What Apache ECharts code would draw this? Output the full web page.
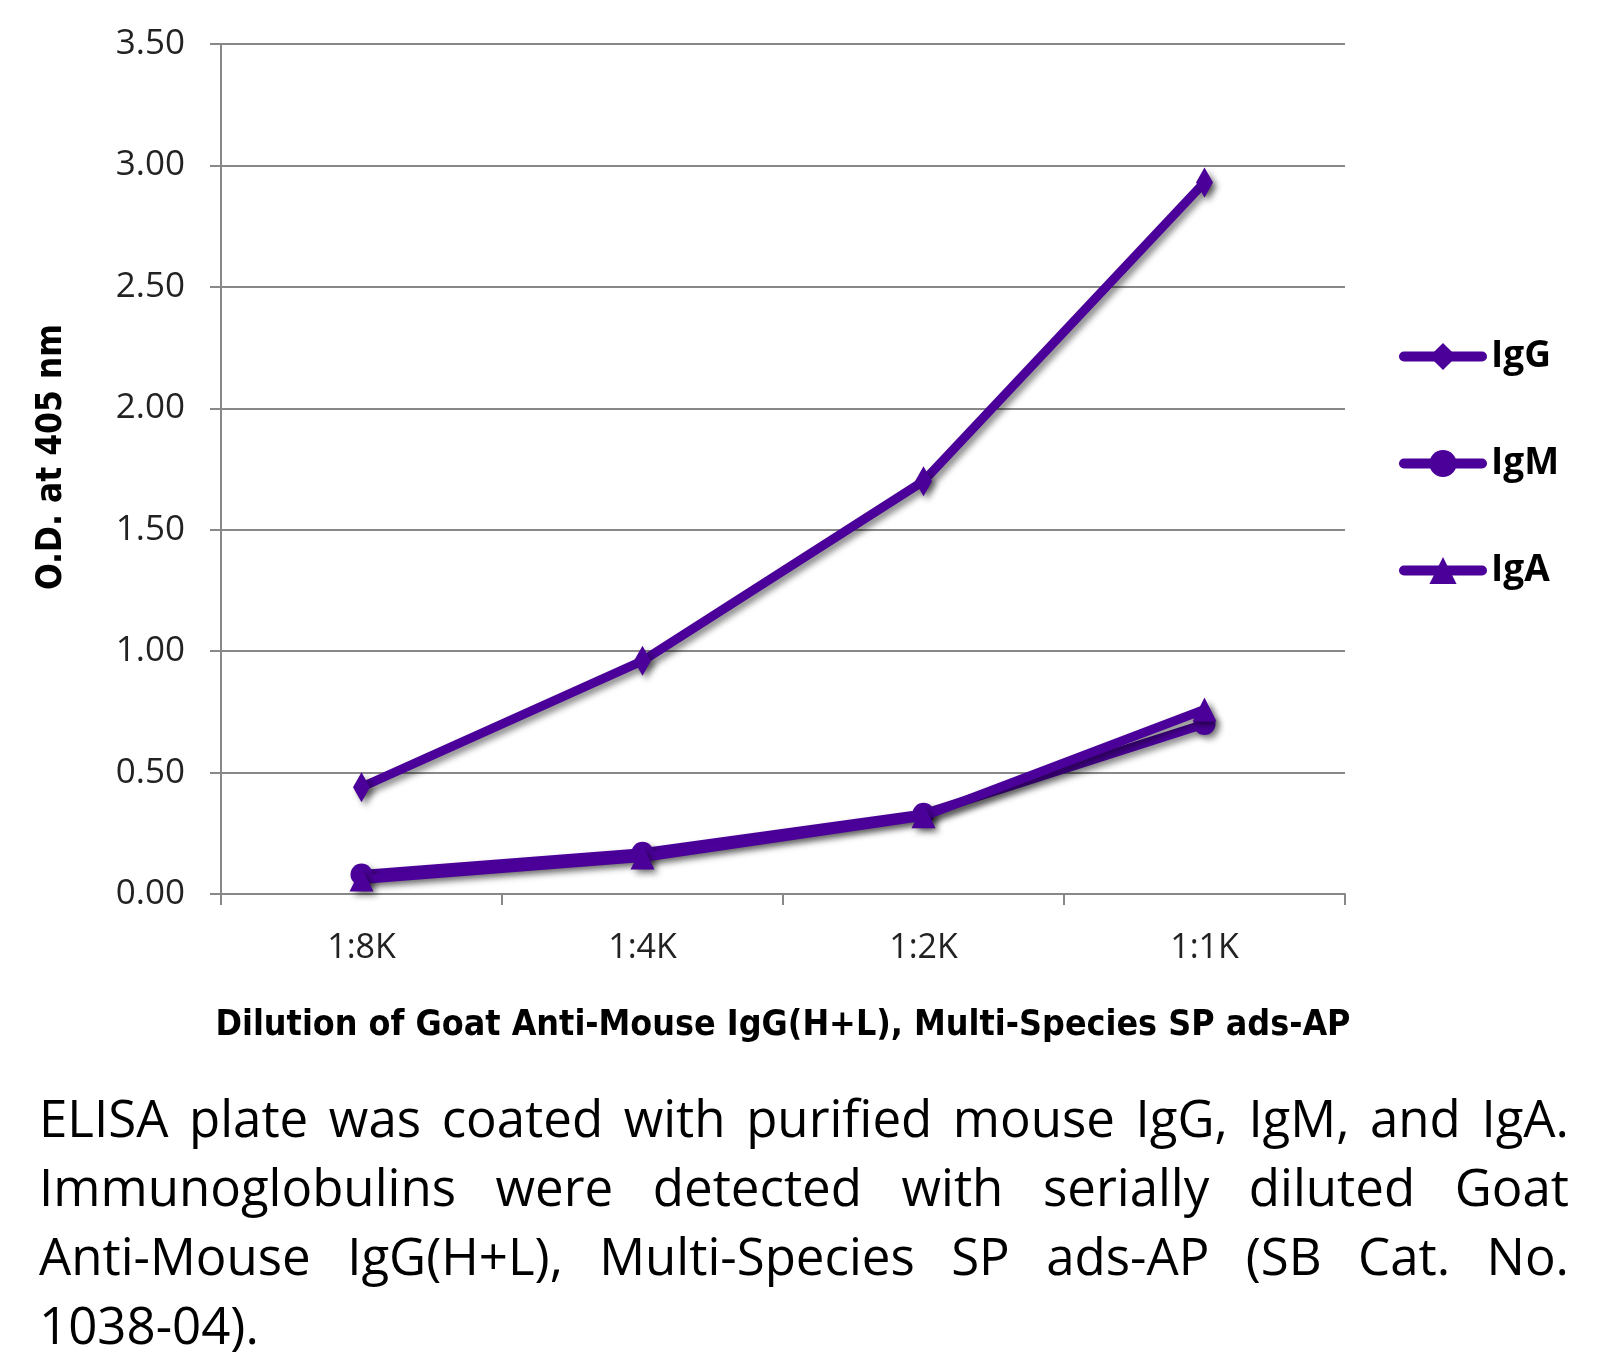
<!DOCTYPE html>
<html>
<head>
<meta charset="utf-8">
<script src="https://cdn.jsdelivr.net/npm/echarts@6/dist/echarts.min.js"></script>
<style>
  html, body { margin: 0; padding: 0; background: #fff; }
  #chart { position: absolute; left: 0; top: 0; width: 1608px; height: 1361px; }
  #caption { position: absolute; left: 39px; top: 1083px; width: 1530px;
    font-family: "Open Sans", "Noto Sans", sans-serif; font-size: 51px; color: #000; }
  #caption div { line-height: 69px; height: 69px; white-space: nowrap; }
  #caption .j { text-align: justify; text-align-last: justify; }
</style>
</head>
<body>
<div id="chart"></div>
<div id="caption"></div>
<script>
const categories = ['1:8K', '1:4K', '1:2K', '1:1K'];
const seriesNames = ['IgG', 'IgM', 'IgA'];
const igG = [0.44, 0.96, 1.70, 2.93];
const igM = [0.08, 0.17, 0.33, 0.70];
const igA = [0.06, 0.15, 0.32, 0.76];
const yTicks = ['0.00', '0.50', '1.00', '1.50', '2.00', '2.50', '3.00', '3.50'];
const xTitle = 'Dilution of Goat Anti-Mouse IgG(H+L), Multi-Species SP ads-AP';
const yTitle = 'O.D. at 405 nm';
const captionLines = [
  'ELISA plate was coated with purified mouse IgG, IgM, and IgA.',
  'Immunoglobulins were detected with serially diluted Goat',
  'Anti-Mouse IgG(H+L), Multi-Species SP ads-AP (SB Cat. No.',
  '1038-04).'
];

const cap = document.getElementById('caption');
captionLines.forEach((t, i) => {
  const d = document.createElement('div');
  d.textContent = t;
  if (i < captionLines.length - 1) d.className = 'j';
  cap.appendChild(d);
});

const purple = '#4a0099';
const condensed = '"DejaVu Sans Condensed", "Liberation Sans Narrow", "Roboto Condensed", sans-serif';
const symbols = ['diamond', 'circle', 'triangle'];
const symbolSizes = [[17, 30], 22, 24];
const values = [igG, igM, igA];

const chart = echarts.init(document.getElementById('chart'), null, { renderer: 'canvas' });
chart.setOption({
  backgroundColor: '#fff',
  animation: false,
  grid: { left: 221, right: 263, top: 44, bottom: 467, containLabel: false },
  xAxis: {
    type: 'category',
    data: categories,
    boundaryGap: true,
    axisLine: { lineStyle: { color: '#888', width: 2 } },
    axisTick: { show: true, length: 11, lineStyle: { color: '#888', width: 2 } },
    axisLabel: { color: '#222', fontFamily: 'Open Sans', fontSize: 34, margin: 37 },
    name: xTitle,
    nameLocation: 'middle',
    nameGap: 114,
    nameTextStyle: { fontFamily: condensed, fontWeight: 'bold', fontSize: 35.5, color: '#000' }
  },
  yAxis: {
    type: 'value',
    min: 0, max: 3.5, interval: 0.5,
    axisLine: { show: true, lineStyle: { color: '#888', width: 2 } },
    axisTick: { show: true, length: 11, lineStyle: { color: '#888', width: 2 } },
    splitLine: { lineStyle: { color: '#888', width: 2 } },
    axisLabel: {
      color: '#222', fontFamily: 'Open Sans', fontSize: 35, margin: 36,
      formatter: (v) => yTicks[Math.round(v / 0.5)]
    },
    name: yTitle,
    nameLocation: 'middle',
    nameGap: 152,
    nameRotate: 90,
    nameTextStyle: { fontFamily: condensed, fontWeight: 'bold', fontSize: 35, color: '#000', padding: [0, 0, 0, 24] }
  },
  legend: {
    orient: 'vertical',
    left: 1394,
    top: 333,
    itemWidth: 78,
    itemHeight: 34,
    itemGap: 70,
    data: seriesNames,
    lineStyle: { width: 10, cap: 'round', color: purple },
    textStyle: { fontFamily: 'Open Sans', fontWeight: 'bold', fontSize: 37, color: '#000', padding: [0, 0, 0, 4] }
  },
  series: seriesNames.map((n, i) => ({
    name: n,
    type: 'line',
    data: values[i],
    symbol: symbols[i],
    symbolSize: symbolSizes[i],
    color: purple,
    lineStyle: {
      width: 9, color: purple, cap: 'round', join: 'round',
      shadowColor: 'rgba(0,0,0,0.45)', shadowBlur: 6, shadowOffsetX: 4, shadowOffsetY: 4
    },
    itemStyle: {
      color: purple,
      shadowColor: 'rgba(0,0,0,0.45)', shadowBlur: 6, shadowOffsetX: 4, shadowOffsetY: 4
    },
    z: 2 + i
  }))
});
</script>
</body>
</html>
